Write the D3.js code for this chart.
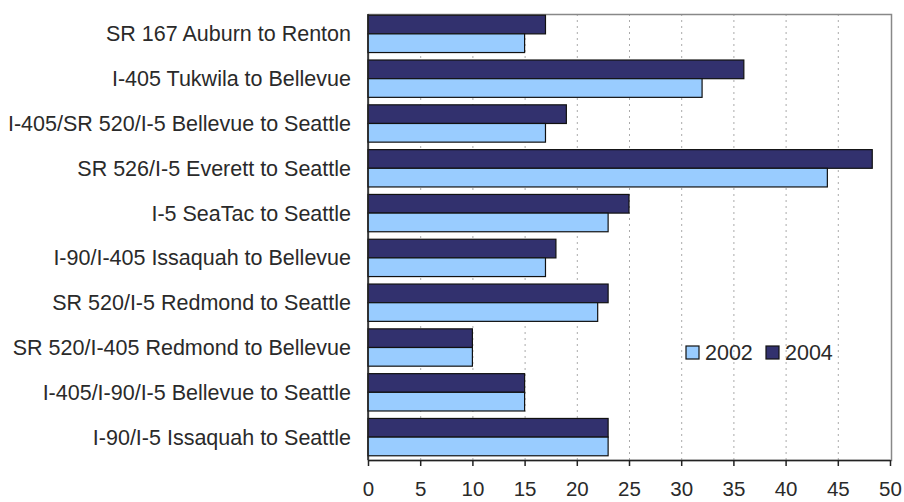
<!DOCTYPE html>
<html><head><meta charset="utf-8">
<script src="https://cdn.jsdelivr.net/npm/d3@7/dist/d3.min.js"></script>
<style>body{margin:0;background:#fff}svg{display:block}text{font-family:Arial,"Liberation Sans",sans-serif;fill:#2a2a2a}</style>
</head><body><svg id="c" width="904" height="502"></svg>
<script>
const categories = ["SR 167 Auburn to Renton","I-405 Tukwila to Bellevue","I-405/SR 520/I-5 Bellevue to Seattle","SR 526/I-5 Everett to Seattle","I-5 SeaTac to Seattle","I-90/I-405 Issaquah to Bellevue","SR 520/I-5 Redmond to Seattle","SR 520/I-405 Redmond to Bellevue","I-405/I-90/I-5 Bellevue to Seattle","I-90/I-5 Issaquah to Seattle"];
const values2004 = [17,36,19,48.3,25,18,23,10,15,23];
const values2002 = [15,32,17,44,23,17,22,10,15,23];
const seriesNames = ["2002","2004"];
const xTicks = [0,5,10,15,20,25,30,35,40,45,50];

const colors = {"2002":"#99ccff","2004":"#32316e"};
const svg = d3.select("#c");
const L=368, R=890, T=14, B=460;
const x = d3.scaleLinear().domain([0,50]).range([L,R]);
const y = d3.scaleBand().domain(categories).range([11.5,459.5]).paddingInner(0.167).paddingOuter(0.083);
const sub = d3.scaleBand().domain(["2004","2002"]).range([0,y.bandwidth()]);

// grid
svg.append("g").selectAll("line").data(xTicks.slice(1,-1)).join("line")
  .attr("x1",d=>x(d)+0.5).attr("x2",d=>x(d)+0.5).attr("y1",T).attr("y2",B)
  .attr("stroke","#aaa").attr("stroke-dasharray","2,4");
// plot border
svg.append("rect").attr("x",L+0.5).attr("y",T+0.5).attr("width",R+1-L).attr("height",B-T)
  .attr("fill","none").attr("stroke","#888").attr("stroke-width",1.5);

const data = categories.map((c,i)=>({c, v:{"2002":values2002[i],"2004":values2004[i]}}));
const g = svg.append("g");
data.forEach(d=>{
  ["2004","2002"].forEach(s=>{
    g.append("rect").attr("x",x(0)).attr("y",y(d.c)+sub(s))
      .attr("width",x(d.v[s])-x(0)).attr("height",sub.bandwidth())
      .attr("fill",colors[s]).attr("stroke","#111").attr("stroke-width",1.2);
  });
});

// x axis
const xa = svg.append("g").attr("transform",`translate(0,${B})`)
  .call(d3.axisBottom(x).tickValues(xTicks).tickSize(6).tickPadding(15).tickSizeOuter(0));
xa.select(".domain").attr("stroke","#222").attr("stroke-width",1.5);
xa.selectAll(".tick line").attr("stroke","#222").attr("stroke-width",1.5);
xa.selectAll("text").attr("font-size",20.5).attr("fill","#2a2a2a").attr("font-family","Arial, 'Liberation Sans', sans-serif");
// y axis line
svg.append("line").attr("x1",L).attr("x2",L).attr("y1",T).attr("y2",B).attr("stroke","#222").attr("stroke-width",1.5);

// category labels
svg.append("g").selectAll("text").data(categories).join("text")
  .attr("x",351).attr("y",d=>y(d)+y.bandwidth()/2+7.5)
  .attr("text-anchor","end").attr("font-size",21.5).text(d=>d);

// legend
const lg = svg.append("g");
const lx=[686,766];
seriesNames.forEach((s,i)=>{
  lg.append("rect").attr("x",lx[i]).attr("y",346).attr("width",13).attr("height",13)
    .attr("fill",colors[s]).attr("stroke","#111").attr("stroke-width",1.2);
  lg.append("text").attr("x",lx[i]+19).attr("y",360).attr("font-size",21.5).text(s);
});
</script></body></html>
